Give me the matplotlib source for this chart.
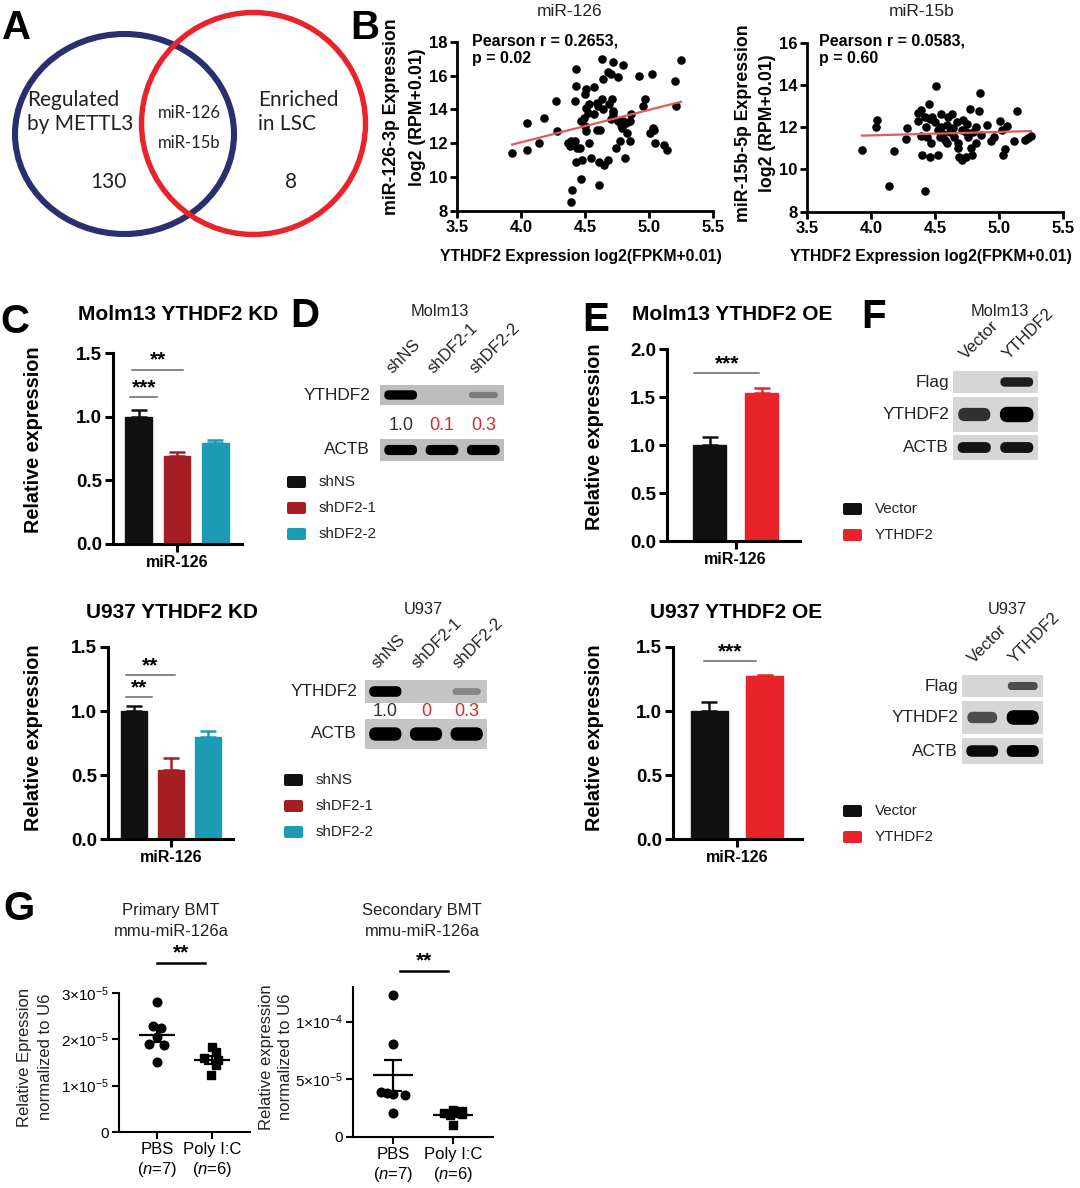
import numpy as np
import matplotlib
matplotlib.use('Agg')
import matplotlib.pyplot as plt
from matplotlib.patches import Ellipse, Rectangle, FancyBboxPatch

W, H = 1080, 1188
plt.rcParams['font.family'] = ['Liberation Sans', 'DejaVu Sans']
plt.rcParams['mathtext.fontset'] = 'custom'
plt.rcParams['mathtext.rm'] = 'Liberation Sans'
plt.rcParams['mathtext.it'] = 'Liberation Sans:italic'
plt.rcParams['mathtext.bf'] = 'Liberation Sans:bold'

# ---------------- DATA ----------------
venn_left_label = ['Regulated', 'by METTL3']
venn_right_label = ['Enriched', 'in LSC']
venn_left_count = 130
venn_right_count = 8
venn_shared = ['miR-126', 'miR-15b']

mir126_x = [3.93, 4.05, 4.05, 4.14, 4.18, 4.27, 4.28, 4.37, 4.38, 4.39,
            4.41, 4.42, 4.43, 4.43, 4.42, 4.44, 4.43, 4.40, 4.39, 4.47,
            4.48, 4.46, 4.47, 4.49, 4.50, 4.51, 4.50, 4.51, 4.52, 4.51,
            4.53, 4.53, 4.57, 4.57, 4.55, 4.59, 4.60, 4.59, 4.62, 4.63,
            4.63, 4.64, 4.64, 4.61, 4.61, 4.65, 4.68, 4.68, 4.70, 4.72,
            4.71, 4.69, 4.72, 4.70, 4.72, 4.74, 4.76, 4.77, 4.76, 4.78,
            4.79, 4.80, 4.81, 4.80, 4.82, 4.83, 4.85, 4.86, 4.85, 4.92,
            4.95, 4.97, 5.02, 5.01, 5.03, 5.04, 5.05, 5.12, 5.14, 5.20,
            5.21, 5.25]
mir126_y = [11.4, 11.6, 13.2, 12.0, 13.5, 14.5, 12.7, 12.0, 11.8, 12.1,
            11.9, 12.1, 16.4, 15.4, 14.5, 11.7, 10.9, 9.2, 8.5, 9.9,
            11.0, 11.7, 13.3, 13.5, 14.9, 15.2, 13.0, 12.7, 13.8, 14.1,
            14.3, 12.0, 15.3, 13.7, 11.1, 14.4, 14.2, 12.8, 12.8, 17.0,
            14.6, 15.8, 14.0, 10.9, 9.5, 10.7, 11.0, 16.2, 16.1, 16.8,
            14.6, 14.3, 13.9, 13.4, 13.7, 11.7, 15.9, 12.1, 13.3, 13.1,
            12.9, 16.6, 11.1, 13.3, 13.2, 12.6, 12.1, 13.7, 13.3, 16.0,
            14.2, 14.6, 16.1, 12.6, 12.9, 12.8, 12.0, 11.9, 11.6, 15.7,
            14.2, 16.9]
mir15b_x = [3.93, 4.05, 4.04, 4.14, 4.18, 4.28, 4.27, 4.37, 4.37, 4.39,
            4.40, 4.42, 4.45, 4.42, 4.43, 4.44, 4.46, 4.47, 4.48, 4.50,
            4.51, 4.52, 4.52, 4.54, 4.55, 4.56, 4.58, 4.59, 4.60, 4.62,
            4.63, 4.64, 4.65, 4.67, 4.68, 4.68, 4.69, 4.71, 4.71, 4.72,
            4.74, 4.75, 4.76, 4.77, 4.78, 4.79, 4.80, 4.82, 4.84, 4.85,
            4.86, 4.91, 4.94, 4.96, 5.01, 5.02, 5.03, 5.05, 5.06, 5.12,
            5.14, 5.20, 5.23, 5.25, 4.82, 4.74, 4.55, 4.59, 4.39, 4.46]
mir15b_y = [10.9, 12.36, 12.0, 9.23, 10.87, 11.98, 11.44, 12.67, 12.3, 11.58,
            10.69, 8.97, 13.1, 12.48, 12.0, 11.55, 10.6, 11.27, 12.48, 12.25,
            13.97, 10.69, 11.86, 11.55, 12.0, 11.7, 11.39, 12.1, 12.48, 11.78,
            12.64, 11.94, 11.55, 12.25, 11.23, 11.0, 10.6, 10.45, 11.86, 12.33,
            10.6, 12.17, 11.55, 12.87, 11.0, 10.69, 11.78, 11.23, 12.77, 13.6,
            11.63, 12.1, 11.34, 11.55, 12.3, 11.89, 10.69, 10.95, 12.06, 11.36,
            12.75, 11.39, 11.47, 11.58, 12.0, 11.78, 12.64, 11.23, 12.8, 12.4]
pearson_126 = ('Pearson r = 0.2653,', 'p = 0.02')
pearson_15b = ('Pearson r = 0.0583,', 'p = 0.60')

kd_groups = ['shNS', 'shDF2-1', 'shDF2-2']
kd_molm13_mean = [1.00, 0.69, 0.79]
kd_molm13_err = [0.05, 0.03, 0.03]
kd_u937_mean = [1.00, 0.54, 0.80]
kd_u937_err = [0.04, 0.09, 0.04]
oe_groups = ['Vector', 'YTHDF2']
oe_molm13_mean = [1.00, 1.54]
oe_molm13_err = [0.085, 0.05]
oe_u937_mean = [1.00, 1.27]
oe_u937_err = [0.07, 0.01]
gene_label = 'miR-126'

blot_d_molm13_ythdf2 = [1.0, 0.0, 0.35]
blot_d_molm13_actb = [1.0, 1.0, 1.0]
blot_d_molm13_quant = ['1.0', '0.1', '0.3']
blot_d_u937_ythdf2 = [1.0, 0.0, 0.3]
blot_d_u937_actb = [1.0, 1.0, 1.0]
blot_d_u937_quant = ['1.0', '0', '0.3']
blot_f_molm13_flag = [0.0, 0.85]
blot_f_molm13_ythdf2 = [0.75, 1.0]
blot_f_molm13_actb = [0.9, 0.9]
blot_f_u937_flag = [0.0, 0.6]
blot_f_u937_ythdf2 = [0.6, 1.0]
blot_f_u937_actb = [0.95, 1.0]

g_groups = ['PBS', 'Poly I:C']
g_n = [7, 6]
g1_pbs = [2.80e-5, 2.28e-5, 2.25e-5, 2.06e-5, 1.90e-5, 1.88e-5, 1.51e-5]
g1_pbs_dx = [0.0, -0.07, 0.08, 0.0, -0.15, 0.12, 0.0]
g1_poly = [1.83e-5, 1.73e-5, 1.60e-5, 1.55e-5, 1.44e-5, 1.22e-5]
g1_poly_dx = [0.0, 0.07, -0.14, 0.10, 0.07, -0.02]
g2_pbs = [12.3e-5, 8.1e-5, 3.9e-5, 3.75e-5, 3.6e-5, 3.8e-5, 2.05e-5]
g2_pbs_dx = [0.0, 0.0, -0.2, 0.0, 0.2, -0.1, 0.0]
g2_poly = [2.35e-5, 2.25e-5, 2.05e-5, 2.0e-5, 1.9e-5, 1.05e-5]
g2_poly_dx = [0.0, 0.15, -0.15, 0.15, -0.05, 0.0]

# ---------------- STYLE ----------------
BLACK = '#111111'
DARKRED = '#A51E23'
TEAL = '#1C9BB4'
RED = '#E8242A'
NAVY = '#2A306E'
kd_colors = [BLACK, DARKRED, TEAL]
oe_colors = [BLACK, RED]

fig = plt.figure(figsize=(W / 100, H / 100), dpi=100)


def px_axes(l, t, r, b):
    ax = fig.add_axes([l / W, 1 - b / H, (r - l) / W, (b - t) / H])
    ax.patch.set_alpha(0)
    return ax


def style(ax, lw=2.0, tl=5):
    for s in ['top', 'right']:
        ax.spines[s].set_visible(False)
    for s in ['left', 'bottom']:
        ax.spines[s].set_linewidth(lw)
    ax.tick_params(direction='out', length=tl, width=lw, pad=2)


ov = fig.add_axes([0, 0, 1, 1], zorder=5)
ov.set_xlim(0, W)
ov.set_ylim(H, 0)
ov.axis('off')
ov.patch.set_alpha(0)


def T(x, y, s, **kw):
    ov.text(x, y, s, **kw)


# panel letters
for letter, x, y in [('A', 2, 39), ('B', 350, 39), ('C', 0, 333), ('D', 290, 327),
                     ('E', 582, 331), ('F', 861, 328), ('G', 3, 920)]:
    T(x, y, letter, fontsize=29, fontweight='bold', va='baseline', ha='left')

# ---------------- A: Venn ----------------
ov.add_patch(Ellipse((124.5, 134), 219, 200, fill=False, ec=NAVY, lw=4.4))
ov.add_patch(Ellipse((253.5, 123.5), 224, 222, fill=False, ec=RED, lw=3.9))
vf = dict(family=['Lato', 'DejaVu Sans'], va='center', color='#222222')
T(27, 100, venn_left_label[0], fontsize=15, ha='left', **vf)
T(27, 124, venn_left_label[1], fontsize=15, ha='left', **vf)
T(258, 100, venn_right_label[0], fontsize=15, ha='left', **vf)
T(258, 124, venn_right_label[1], fontsize=15, ha='left', **vf)
T(189, 113, venn_shared[0], fontsize=12, ha='center', **vf)
T(189, 143, venn_shared[1], fontsize=12, ha='center', **vf)
T(108, 182, str(venn_left_count), fontsize=15, ha='center', **vf)
T(291, 182, str(venn_right_count), fontsize=15, ha='center', **vf)

# ---------------- B: scatter ----------------


def scatter_panel(box, x, y, ylim, yticks, title, title_x, ylab, ylab_x, ylab_y, ptxt, pt_x):
    ax = px_axes(*box)
    ax.scatter(x, y, s=38, c='black', linewidths=0, clip_on=False, zorder=3)
    k, b0 = np.polyfit(x, y, 1)
    xx = np.array([min(x), max(x)])
    ax.plot(xx, k * xx + b0, color='#E05A5E', lw=1.6, zorder=4)
    ax.set_xlim(3.5, 5.5)
    ax.set_ylim(*ylim)
    xt = [3.5, 4.0, 4.5, 5.0, 5.5]
    ax.set_xticks(xt, [f'{v:.1f}' for v in xt], fontsize=12, fontweight='bold')
    ax.set_yticks(yticks, [str(v) for v in yticks], fontsize=12, fontweight='bold')
    style(ax, lw=2.0, tl=5)
    T(title_x, 12, title, fontsize=12.5, ha='center', va='center', color='#222222')
    T((box[0] + box[2]) / 2 - 4, 256, 'YTHDF2 Expression log2(FPKM+0.01)', fontsize=11.3,
      fontweight='bold', ha='center', va='center')
    T(ylab_x[0], ylab_y, ylab[0], fontsize=12.8, fontweight='bold', rotation=90,
      ha='center', va='center')
    T(ylab_x[1], ylab_y, ylab[1], fontsize=12.8, fontweight='bold', rotation=90,
      ha='center', va='center')
    T(pt_x, 41, ptxt[0], fontsize=11.5, fontweight='bold', ha='left', va='center')
    T(pt_x, 58, ptxt[1], fontsize=11.5, fontweight='bold', ha='left', va='center')
    return ax


scatter_panel((457, 41.7, 713, 210.7), mir126_x, mir126_y, (8, 18), [8, 10, 12, 14, 16, 18],
              'miR-126', 570, ['miR-126-3p Expression', 'log2 (RPM+0.01)'], (392, 417), 117,
              pearson_126, 472)
scatter_panel((807, 42.7, 1063, 211.7), mir15b_x, mir15b_y, (8, 16), [8, 10, 12, 14, 16],
              'miR-15b', 922, ['miR-15b-5p Expression', 'log2 (RPM+0.01)'], (743, 767), 123,
              pearson_15b, 819)

# ---------------- C / E: bar charts ----------------


def bar_panel(box, means, errs, colors, xlim, width, ylim, yticks, sigs, title, title_xy, ylab_xy):
    ax = px_axes(*box)
    x = np.arange(len(means))
    ax.bar(x, means, width=width, color=colors, edgecolor=colors, linewidth=1, zorder=2)
    for xi, m, e, c in zip(x, means, errs, colors):
        ax.errorbar(xi, m, yerr=[[0], [e]], color=c, capsize=5.5, elinewidth=1.8,
                    capthick=1.8, zorder=1)
    ax.set_xlim(*xlim)
    ax.set_ylim(*ylim)
    ax.set_xticks([(len(means) - 1) / 2], [gene_label], fontsize=11.5, fontweight='bold')
    ax.set_yticks(yticks, [f'{v:.1f}' for v in yticks], fontsize=13.5, fontweight='bold')
    style(ax, lw=2.2, tl=6)
    for x0, x1, y, s in sigs:
        ax.plot([x0, x1], [y, y], color='#666666', lw=1.1, clip_on=False)
        ax.annotate(s, xy=((x0 + x1) / 2, y), xytext=(0, 0), textcoords='offset points',
                    ha='center', va='bottom', fontsize=15, fontweight='bold',
                    annotation_clip=False)
    T(title_xy[0], title_xy[1], title, fontsize=15, fontweight='bold', ha='left', va='center')
    T(ylab_xy[0], ylab_xy[1], 'Relative expression', fontsize=14.3, fontweight='bold',
      rotation=90, ha='center', va='center')
    return ax


bar_panel((113, 353, 242, 544), kd_molm13_mean, kd_molm13_err, kd_colors, (-0.67, 2.70), 0.70,
          (0, 1.5), [0, 0.5, 1.0, 1.5], [(-0.17, 1.16, 1.37, '**'), (-0.22, 0.48, 1.155, '***')],
          'Molm13 YTHDF2 KD', (78, 315), (34, 440))
bar_panel((108, 647, 233, 839), kd_u937_mean, kd_u937_err, kd_colors, (-0.70, 2.68), 0.70,
          (0, 1.5), [0, 0.5, 1.0, 1.5], [(-0.22, 1.11, 1.28, '**'), (-0.22, 0.49, 1.11, '**')],
          'U937 YTHDF2 KD', (86, 612), (34, 738))
bar_panel((667, 349, 800, 541), oe_molm13_mean, oe_molm13_err, oe_colors, (-0.82, 1.74), 0.63,
          (0, 2.0), [0, 0.5, 1.0, 1.5, 2.0], [(-0.3, 0.96, 1.75, '***')],
          'Molm13 YTHDF2 OE', (632, 315), (594, 437))
bar_panel((673, 647, 802, 839), oe_u937_mean, oe_u937_err, oe_colors, (-0.66, 1.68), 0.67,
          (0, 1.5), [0, 0.5, 1.0, 1.5], [(-0.1, 0.85, 1.39, '***')],
          'U937 YTHDF2 OE', (650, 612), (594, 738))


def legend(x, ys, labels, colors):
    for y, lab, c in zip(ys, labels, colors):
        ov.add_patch(FancyBboxPatch((x, y - 6), 19, 12, boxstyle='round,pad=0,rounding_size=2',
                                    fc=c, ec='none'))
        T(x + 32, y, lab, fontsize=10.9, ha='left', va='center', color='#222222')


legend(287, [482, 508, 534], kd_groups, kd_colors)
legend(284, [780, 806, 832], kd_groups, kd_colors)
legend(843, [509, 535], oe_groups, oe_colors)
legend(843, [811, 837], oe_groups, oe_colors)

# ---------------- D / F: western blots ----------------


def blot(x0, x1, rows, lanes, bg, title, title_x, title_y, label_gap=8, quant=None):
    n = len(lanes)
    step = (x1 - x0) / n
    centers = [x0 + (i + 0.5) * step for i in range(n)]
    for name, y0, y1, inten in rows:
        ov.add_patch(Rectangle((x0, y0), x1 - x0, y1 - y0, fc=bg, ec='none'))
        T(x0 - label_gap, (y0 + y1) / 2, name, fontsize=12.4, ha='right', va='center',
          color='#222222')
        for cx, v in zip(centers, inten):
            if v <= 0:
                continue
            level = 0.75 * (1 - v)
            h = (y1 - y0) * (0.16 + 0.24 * v)
            bw = step * (0.62 + 0.14 * v)
            cy = (y0 + y1) / 2
            ov.add_patch(FancyBboxPatch((cx - bw / 2, cy - h / 2), bw, h,
                                        boxstyle=f'round,pad=0,rounding_size={h / 2:.2f}',
                                        fc=(level, level, level), ec=(level, level, level),
                                        lw=1.0))
    top = rows[0][1]
    for cx, lab in zip(centers, lanes):
        ov.text(cx - 6, top - 9, lab, rotation=45, rotation_mode='anchor', ha='left',
                va='bottom', fontsize=12, color='#222222')
    T(title_x, title_y, title, fontsize=11.8, ha='center', va='center', color='#222222')
    if quant is not None:
        qy, qlabels, qcolors = quant
        for cx, q, qc in zip(centers, qlabels, qcolors):
            T(cx, qy, q, fontsize=13, ha='center', va='center', color=qc)


qcol = ['#333333', '#D0312D', '#D0312D']
blot(380, 504, [('YTHDF2', 385, 405, blot_d_molm13_ythdf2), ('ACTB', 439, 461, blot_d_molm13_actb)],
     kd_groups, '#BDBDBD', 'Molm13', 440, 312, label_gap=10,
     quant=(426, blot_d_molm13_quant, qcol))
blot(365, 487, [('YTHDF2', 680, 703, blot_d_u937_ythdf2), ('ACTB', 719, 749, blot_d_u937_actb)],
     kd_groups, '#C4C4C4', 'U937', 423, 610, label_gap=8,
     quant=(711, blot_d_u937_quant, qcol))
blot(953, 1038, [('Flag', 371, 393, blot_f_molm13_flag), ('YTHDF2', 397, 432, blot_f_molm13_ythdf2),
                 ('ACTB', 435, 460, blot_f_molm13_actb)],
     oe_groups, '#D6D6D6', 'Molm13', 1000, 312, label_gap=4)
blot(962, 1043, [('Flag', 675, 697, blot_f_u937_flag), ('YTHDF2', 701, 734, blot_f_u937_ythdf2),
                 ('ACTB', 738, 764, blot_f_u937_actb)],
     oe_groups, '#D6D6D6', 'U937', 1007, 610, label_gap=4)

# ---------------- G: dot plots ----------------


def dot_panel(box, groups, dxs, xlim, ylim, yticks, ylabels, title, title_x, ylab, ylab_x,
              sig_y, sig_x):
    ax = px_axes(*box)
    markers = ['o', 's']
    for i, (vals, dx) in enumerate(zip(groups, dxs)):
        v = np.array(vals)
        ax.plot(i + np.array(dx), v, ls='none', marker=markers[i], ms=6.2 if i == 0 else 5.6,
                color='black', clip_on=False, zorder=3)
        m = v.mean()
        sem = v.std(ddof=1) / np.sqrt(len(v))
        ax.hlines(m, i - 0.33, i + 0.33, color='black', lw=1.6, zorder=4)
        ax.vlines(i, m - sem, m + sem, color='black', lw=1.6, zorder=4)
        ax.hlines([m - sem, m + sem], i - 0.15, i + 0.15, color='black', lw=1.6, zorder=4)
    ax.set_xlim(*xlim)
    ax.set_ylim(*ylim)
    ax.set_xticks([0, 1], [f'{g}\n($\\mathit{{n}}$={n})' for g, n in zip(g_groups, g_n)],
                  fontsize=12)
    ax.set_yticks(yticks, ylabels, fontsize=11)
    style(ax, lw=1.5, tl=5)
    T(title_x, 910, title[0], fontsize=12, ha='center', va='center', color='#222222')
    T(title_x, 932, title[1], fontsize=12, ha='center', va='center', color='#222222')
    T(ylab_x[0], 1057, ylab[0], fontsize=12, rotation=90, ha='center', va='center',
      color='#222222')
    T(ylab_x[1], 1057, ylab[1], fontsize=12, rotation=90, ha='center', va='center',
      color='#222222')
    ax.plot(sig_x, [sig_y, sig_y], color='black', lw=1.8, clip_on=False)
    ax.annotate('**', xy=(np.mean(sig_x), sig_y), xytext=(0, 0), textcoords='offset points',
                ha='center', va='bottom', fontsize=15, fontweight='bold',
                annotation_clip=False)
    return ax


dot_panel((119, 993, 250, 1132), [g1_pbs, g1_poly], [g1_pbs_dx, g1_poly_dx], (-0.69, 1.69),
          (0, 3e-5), [0, 1e-5, 2e-5, 3e-5],
          ['0', '1×10$^{-5}$', '2×10$^{-5}$', '3×10$^{-5}$'],
          ['Primary BMT', 'mmu-miR-126a'], 171,
          ['Relative Epression', 'normalized to U6'], (25, 45), 3.65e-5, [0.0, 0.87])
dot_panel((353, 987, 493, 1137), [g2_pbs, g2_poly], [g2_pbs_dx, g2_poly_dx], (-0.67, 1.67),
          (0, 1.3e-4), [0, 5e-5, 1e-4],
          ['0', '5×10$^{-5}$', '1×10$^{-4}$'],
          ['Secondary BMT', 'mmu-miR-126a'], 422,
          ['Relative expression', 'normalized to U6'], (266, 285), 1.44e-4, [0.12, 0.92])

fig.savefig('out.png', dpi=100)
